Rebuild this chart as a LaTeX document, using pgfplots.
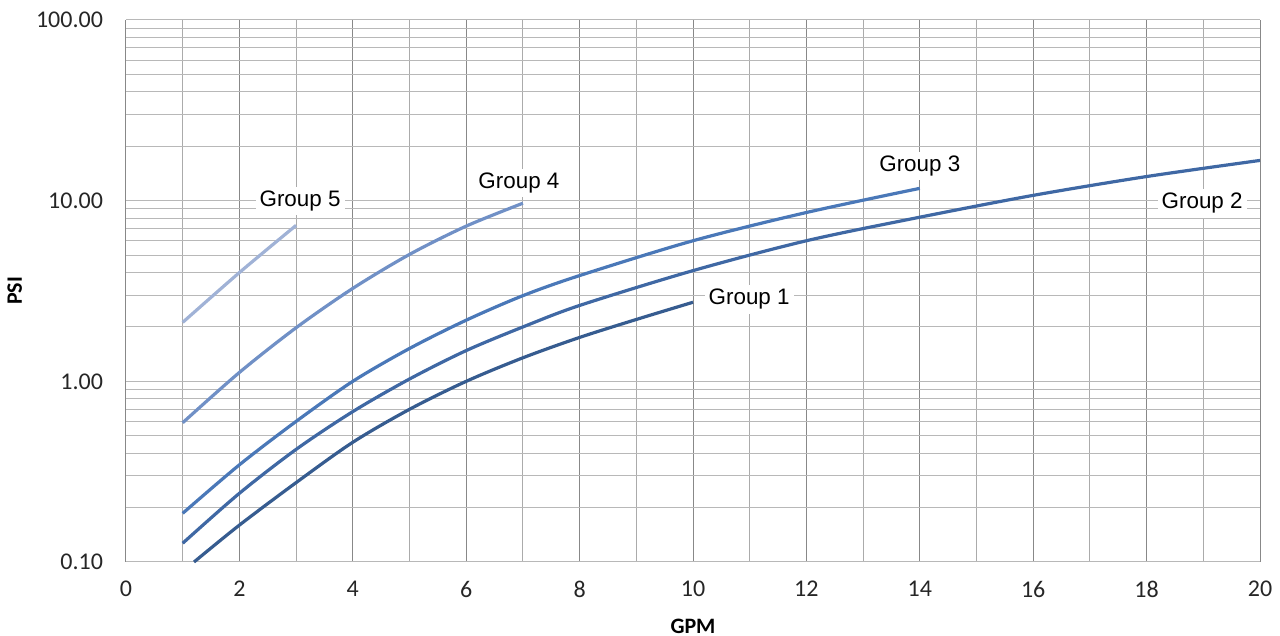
\documentclass[border=0pt]{standalone}
\usepackage{pgfplots}
\pgfplotsset{compat=1.18}
\usepackage{fontspec}
\setmainfont{Carlito}
\newfontfamily\labfont{Liberation Sans}
\definecolor{gA}{HTML}{365C90}
\definecolor{gB}{HTML}{3F68A4}
\definecolor{gC}{HTML}{4A78B8}
\definecolor{gD}{HTML}{7090C6}
\definecolor{gE}{HTML}{A0B2D6}
\definecolor{vgrid}{HTML}{888888}
\definecolor{vmgrid}{HTML}{ABABAB}
\definecolor{hgrid}{HTML}{B8B8B8}
\begin{document}
\begin{tikzpicture}
\useasboundingbox (-63pt,-37pt) rectangle (577pt,281pt);
\begin{axis}[
  scale only axis,
  width=567pt, height=271pt,
  xmin=0, xmax=20,
  ymode=log, ymin=0.1, ymax=100,
  log basis y=10,
  xtick={0,2,...,20},
  minor x tick num=1,
  ytick={0.1,1,10,100},
  minor ytick={0.2,0.3,0.4,0.5,0.6,0.7,0.8,0.9,2,3,4,5,6,7,8,9,20,30,40,50,60,70,80,90},
  yticklabels={0.10,1.00,10.00,100.00},
  axis line style={draw=none},
  tick style={draw=none},
  grid=both,
  x grid style={vgrid, line width=0.5pt},
  y grid style={hgrid, line width=0.5pt},
  minor x grid style={vmgrid, line width=0.5pt},
  minor y grid style={hgrid, line width=0.5pt},
  tick label style={font=\fontsize{12}{14}\selectfont, text=black!85},
  /pgf/number format/assume math mode=true,
  xticklabel style={yshift=-6pt},
  yticklabel style={xshift=-8pt},
  xlabel={\textbf{GPM}},
  ylabel={\textbf{PSI}},
  label style={font=\fontsize{11}{13}\selectfont},
  xlabel style={at={(axis description cs:0.5,-0.118)}, anchor=center},
  ylabel style={at={(axis description cs:-0.098,0.5)}, anchor=center},
  clip=false,
]
\addplot[gA, line width=1.6pt, smooth] coordinates {
(1.2,0.1) (2,0.16) (3,0.275) (4,0.46) (5,0.7) (6,1.0) (7,1.35) (8,1.75) (9,2.2) (10,2.74)};
\addplot[gB, line width=1.6pt, smooth] coordinates {
(1,0.127) (2,0.24) (3,0.42) (4,0.68) (5,1.03) (6,1.48) (7,2.0) (8,2.63) (10,4.1) (12,6.0) (14,8.1) (16,10.7) (18,13.6) (20,16.7)};
\addplot[gC, line width=1.6pt, smooth] coordinates {
(1,0.186) (2,0.345) (3,0.6) (4,1.0) (5,1.52) (6,2.18) (7,2.98) (8,3.85) (10,6.0) (12,8.6) (14,11.7)};
\addplot[gD, line width=1.6pt, smooth] coordinates {
(1,0.59) (2,1.12) (3,1.98) (4,3.27) (5,5.04) (6,7.23) (7,9.68)};
\addplot[gE, line width=1.6pt, smooth] coordinates {
(1,2.12) (2,4.0) (3,7.3)};
\begin{scope}[every node/.style={fill=white, inner sep=2pt, font=\labfont\fontsize{11.2}{13}\selectfont}]
\node at (axis cs:3.07,10) {Group 5};
\node at (axis cs:6.93,12.5) {Group 4};
\node at (axis cs:14.0,15.5) {Group 3};
\node at (axis cs:18.98,9.66) {Group 2};
\node at (axis cs:10.99,2.84) {Group 1};
\end{scope}
\end{axis}
\end{tikzpicture}
\end{document}
